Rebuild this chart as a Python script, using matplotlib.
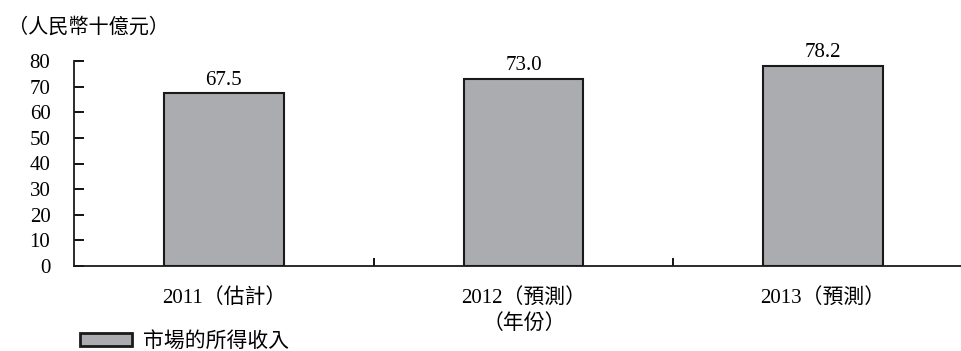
import matplotlib
matplotlib.use("Agg")
import matplotlib.pyplot as plt
from matplotlib.patches import Patch

categories = ["2011（估計）", "2012（預測）", "2013（預測）"]
values = [67.5, 73.0, 78.2]
value_labels = ["67.5", "73.0", "78.2"]
yticks = [0, 10, 20, 30, 40, 50, 60, 70, 80]
unit_label = "（人民幣十億元）"
xlabel = "（年份）"
legend_label = "市場的所得收入"

FONT = ["Liberation Serif", "Noto Sans CJK TC", "DejaVu Sans"]
plt.rcParams["font.family"] = FONT
FS = 15

fig = plt.figure(figsize=(9.62, 3.51), dpi=100)
ax = fig.add_axes([74/962, 1-266/351, 899/962, (266-61)/351])

x = list(range(len(categories)))
ax.bar(x, values, width=0.4, color="#ABACB0", edgecolor="#1a1a1a", linewidth=1.5)
for xi, v, lab in zip(x, values, value_labels):
    ax.annotate(lab, (xi, v), xytext=(0, 2.5), textcoords="offset points",
                ha="center", va="bottom", fontsize=FS)

ax.set_xlim(-0.5, 2.5)
ax.set_ylim(0, 80)
ax.set_yticks(yticks)
ax.set_yticklabels([str(t) for t in yticks], fontsize=FS)
ax.tick_params(axis="y", direction="in", length=7, width=1.3, pad=17)

ax.set_xticks([0.5, 1.5])
ax.set_xticklabels(["", ""])
ax.tick_params(axis="x", which="major", direction="in", length=6, width=1.3)
ax.set_xticks(x, minor=True)
ax.set_xticklabels(categories, minor=True, fontsize=FS)
ax.tick_params(axis="x", which="minor", length=0, pad=16)

for s in ["top", "right"]:
    ax.spines[s].set_visible(False)
for s in ["left", "bottom"]:
    ax.spines[s].set_linewidth(1.3)
    ax.spines[s].set_color("#1a1a1a")

ax.set_xlabel(xlabel, fontsize=FS, labelpad=0)
ax.xaxis.set_label_coords((524 - 74) / 899, -0.236)

fig.text(8/962, 1-28/351, unit_label, fontsize=14.5, ha="left", va="center")

handle = Patch(facecolor="#ABACB0", edgecolor="#1a1a1a", linewidth=2)
fig.legend([handle], [legend_label], loc="center left",
           bbox_to_anchor=(80/962, 1-342/351), frameon=False, fontsize=FS,
           handlelength=2.5, handleheight=0.55, handletextpad=0.5,
           borderpad=0, borderaxespad=0)

fig.savefig("out.png", dpi=100)
